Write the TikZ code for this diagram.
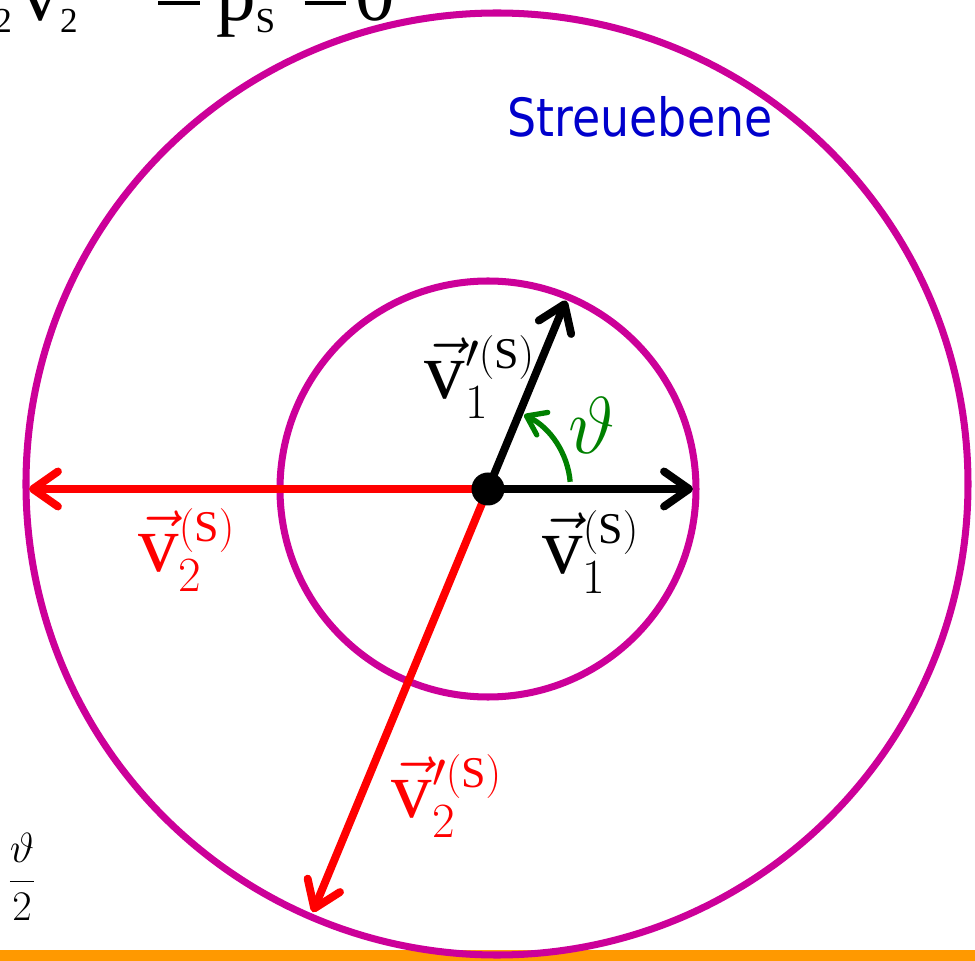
\documentclass[tikz,border=0pt]{standalone}
\usepackage{fix-cm}
\usepackage{fontspec}
\setmainfont{Liberation Serif}
\newfontfamily\streufont[FakeStretch=0.87]{DejaVu Sans}
\DeclareMathSizes{46}{46}{28}{25}
\DeclareMathSizes{45}{45}{20}{16}
\usetikzlibrary{arrows.meta, calc}

\definecolor{ringmag}{RGB}{204,0,153}
\definecolor{streublue}{RGB}{0,0,204}
\definecolor{anglegreen}{RGB}{0,128,0}
\definecolor{barorange}{RGB}{255,153,0}

\newcommand{\eqminus}{\rule[0.2em]{0.53em}{0.05em}}

\begin{document}
\begin{tikzpicture}[
    ring/.style={draw=ringmag, line width=4pt},
    vecarrow/.style={
        line width=4.5pt,
        -{Straight Barb[length=5mm, width=7mm, round]}
    },
    anglearc/.style={
        draw=anglegreen, line width=3pt,
        -{Straight Barb[length=3.5mm, width=5mm, round]}
    },
    veclabel/.style={font=\fontsize{46}{52}\selectfont, inner sep=0pt},
    eqpart/.style={anchor=base west, inner sep=0pt, font=\fontsize{45}{50}\selectfont}
]

    % Frame ===========================
    \useasboundingbox (-9.76,-9.44) rectangle (9.74,9.78);
    \fill[barorange] (-9.76,-9.44) rectangle (9.74,-9.22);

    % Circles ===========================
    \draw[ring] (0.18,0.10) circle (9.42);
    \draw[ring] (0,0) circle (4.16);

    % Centre and vector ends ====================
    \coordinate (O) at (0,0);
    \coordinate (v1) at (4.10,0);
    \coordinate (v1p) at (67.5:4.08);
    \coordinate (v2) at (-9.18,0);
    \coordinate (v2p) at (247.5:9.16);

    \draw[vecarrow, red] (O) -- (v2);
    \draw[vecarrow, red] (O) -- (v2p);
    \draw[vecarrow] (O) -- (v1);
    \draw[vecarrow] (O) -- (v1p);
    \node[circle, fill=black, minimum size=0.66cm, inner sep=0pt] (dot) at (O) {};

    % Scattering angle
    \draw[anglearc] ([shift={(5:1.65)}]O) arc (5:64:1.65);
    \node[veclabel, text=anglegreen] (theta) at (2.08,1.28) {$\vartheta$};

    % Labels ==================
    \node[veclabel] (lv1) at (2.06,-1.26) {$\vec{\mathrm{v}}_1^{\scriptscriptstyle(\mathrm{S})}$};
    \node[veclabel] (lv1p) at (-0.16,2.24) {$\vec{\mathrm{v}}_1^{\prime\scriptscriptstyle(\mathrm{S})}$};
    \node[veclabel, text=red] (lv2) at (-6.02,-1.22) {$\vec{\mathrm{v}}_2^{\scriptscriptstyle(\mathrm{S})}$};
    \node[veclabel, text=red] (lv2p) at (-0.82,-6.14) {$\vec{\mathrm{v}}_2^{\prime\scriptscriptstyle(\mathrm{S})}$};

    \node[text=streublue, font=\streufont\fontsize{30}{36}\selectfont] (plane) at (3.04,7.44) {Streuebene};

    % Cut-off formula pieces
    \node[eqpart] (eqleft) at (-9.88,9.36) {\textsubscript{2}\hspace{0.1em}v\textsubscript{2}};
    \node[eqpart] (eqright) at (-6.60,9.36) {\eqminus\hspace{0.2em}p\textsubscript{S}\hspace{0.36em}\eqminus\hspace{0.12em}0};
    \node[font=\fontsize{24}{28}\selectfont, inner sep=0pt] (half) at (-9.32,-7.76) {$\displaystyle\frac{\vartheta}{2}$};

\end{tikzpicture}
\end{document}
